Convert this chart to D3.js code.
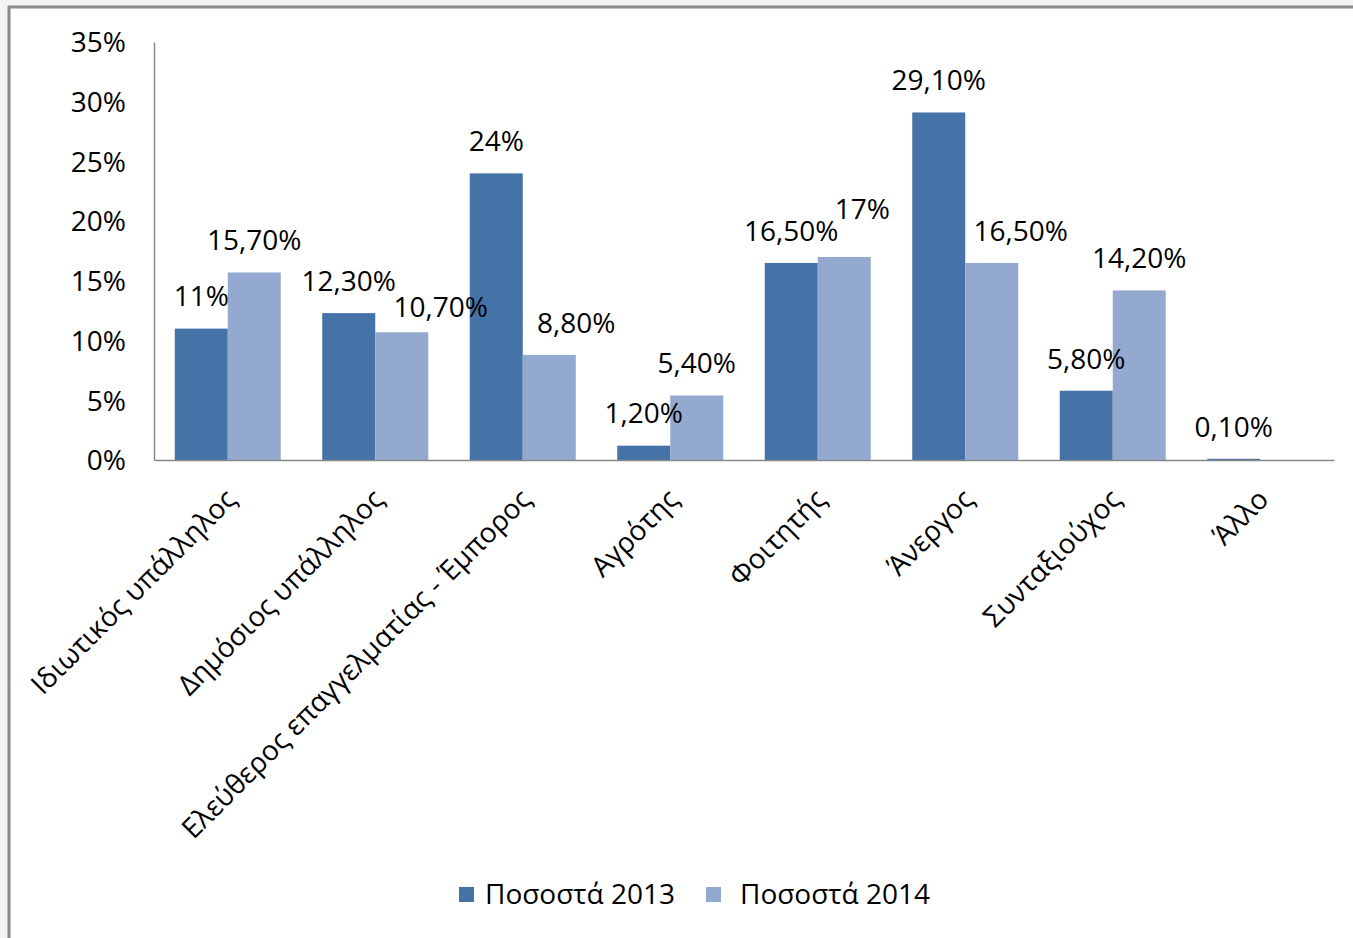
<!DOCTYPE html>
<html>
<head>
<meta charset="utf-8">
<script src="https://cdn.jsdelivr.net/npm/d3@7"></script>
<style>
  html, body { margin: 0; padding: 0; background: #f4f4f4; }
  svg { display: block; }
  text { font-family: "Open Sans", "Noto Sans", sans-serif; fill: #000; }
</style>
</head>
<body>
<svg id="chart" width="1353" height="938"></svg>
<script>
// ---- data ----
const categories = ["Ιδιωτικός υπάλληλος", "Δημόσιος υπάλληλος", "Ελεύθερος επαγγελματίας - Έμπορος",
  "Αγρότης", "Φοιτητής", "Άνεργος", "Συνταξιούχος", "Άλλο"];
const seriesNames = ["Ποσοστά 2013", "Ποσοστά 2014"];
const values2013 = [0.11, 0.123, 0.24, 0.012, 0.165, 0.291, 0.058, 0.001];
const values2014 = [0.157, 0.107, 0.088, 0.054, 0.17, 0.165, 0.142, 0];
const labels2013 = ["11%", "12,30%", "24%", "1,20%", "16,50%", "29,10%", "5,80%", "0,10%"];
const labels2014 = ["15,70%", "10,70%", "8,80%", "5,40%", "17%", "16,50%", "14,20%", ""];
const tickValues = [0, 0.05, 0.10, 0.15, 0.20, 0.25, 0.30, 0.35];
const tickLabels = ["0%", "5%", "10%", "15%", "20%", "25%", "30%", "35%"];

// ---- layout / style ----
const colors = ["#4572A7", "#93A9CF"];
// manual label nudges (dx, dy) for the 2014 labels, as placed in the original
const nudge2014 = [[0,0],[39,7],[27,0],[0,0],[18,-16],[29,0],[0,0],[0,0]];
const plot = { left: 154, right: 1334, top: 42, bottom: 460 };

const svg = d3.select("#chart");

// frame
svg.append("rect").attr("x", 10).attr("y", 8).attr("width", 1400).attr("height", 1000).attr("fill", "#fff");
svg.append("line").attr("x1", 9).attr("x2", 9).attr("y1", 6).attr("y2", 938).attr("stroke", "#8a8a8a").attr("stroke-width", 3);
svg.append("line").attr("x1", 8).attr("x2", 1353).attr("y1", 7).attr("y2", 7).attr("stroke", "#8a8a8a").attr("stroke-width", 3);

const x0 = d3.scaleBand().domain(categories).range([plot.left, plot.right]).paddingInner(0.2813).paddingOuter(0.1407);
const x1 = d3.scaleBand().domain(seriesNames).range([0, x0.bandwidth()]);
const y = d3.scaleLinear().domain([0, 0.35]).range([plot.bottom, plot.top]);

// y axis
const yAxis = svg.append("g").attr("transform", `translate(${plot.left},0)`)
  .call(d3.axisLeft(y).tickValues(tickValues).tickFormat((d, i) => tickLabels[i]).tickSize(0).tickPadding(28));
yAxis.select(".domain").attr("stroke", "#888").attr("stroke-width", 1.5);
yAxis.selectAll("text").attr("font-size", 28).attr("font-family", "Open Sans").attr("dy", "0.35em");

// bars
const rows = categories.map((c, i) => ({ c, i, v: [values2013[i], values2014[i]], l: [labels2013[i], labels2014[i]] }));
const groups = svg.append("g").selectAll("g").data(rows).join("g")
  .attr("transform", d => `translate(${x0(d.c)},0)`);
groups.selectAll("rect").data(d => seriesNames.map((s, k) => ({ s, k, v: d.v[k] }))).join("rect")
  .attr("x", d => x1(d.s))
  .attr("y", d => y(d.v))
  .attr("width", x1.bandwidth())
  .attr("height", d => y(0) - y(d.v))
  .attr("fill", d => colors[d.k]);

// x axis
const xAxis = svg.append("g").attr("transform", `translate(0,${plot.bottom})`)
  .call(d3.axisBottom(x0).tickSize(0).tickFormat(""));
xAxis.select(".domain").attr("stroke", "#888").attr("stroke-width", 1.5);
xAxis.selectAll(".tick").append("text")
  .attr("transform", "translate(10,41) rotate(-45)")
  .attr("text-anchor", "end")
  .attr("font-size", 28)
  .attr("fill", "#000")
  .text(d => d);

// value labels (drawn above all bars)
const labelGroups = svg.append("g").selectAll("g").data(rows).join("g")
  .attr("transform", d => `translate(${x0(d.c)},0)`);
labelGroups.selectAll("text.val").data(d => seriesNames.map((s, k) => ({ s, k, v: d.v[k], l: d.l[k], i: d.i }))).join("text")
  .attr("class", "val")
  .attr("x", d => x1(d.s) + x1.bandwidth() / 2 + (d.k === 1 ? nudge2014[d.i][0] : 0))
  .attr("y", d => y(d.v) - 32 + (d.k === 1 ? nudge2014[d.i][1] : 0))
  .attr("dy", "0.35em")
  .attr("text-anchor", "middle")
  .attr("font-size", 28)
  .text(d => d.l);

// legend
const legend = svg.append("g");
const legX = [459, 706];
const legTextX = [485, 740];
seriesNames.forEach((s, k) => {
  legend.append("rect").attr("x", legX[k]).attr("y", 887).attr("width", 15).attr("height", 15).attr("fill", colors[k]);
  legend.append("text").attr("x", legTextX[k]).attr("y", 894).attr("dy", "0.35em").attr("font-size", 28).text(s);
});
</script>
</body>
</html>
